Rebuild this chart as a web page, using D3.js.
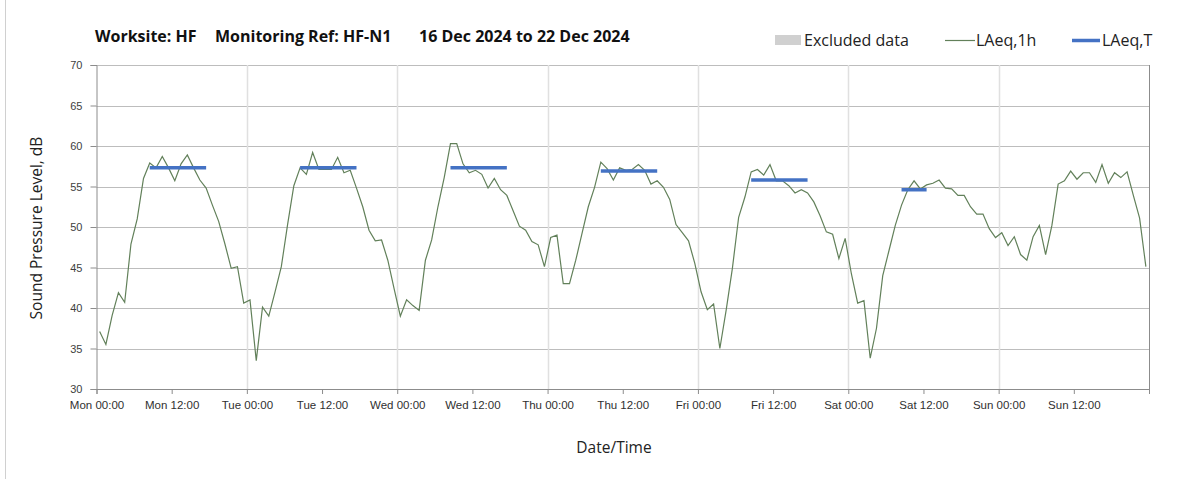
<!DOCTYPE html>
<html><head><meta charset="utf-8">
<script src="https://cdn.jsdelivr.net/npm/d3@7"></script>
<style>body{margin:0;background:#fff;} svg{display:block;font-family:"Open Sans","Noto Sans",sans-serif;}</style>
</head><body>
<svg id="chart" width="1203" height="479"></svg>
<script>
// ---- data (hourly LAeq,1h, dB) ----
const monday    = [37.1,35.5,39.1,41.9,40.7,47.9,51.0,56.0,57.9,57.3,58.7,57.3,55.7,57.8,58.9,57.3,55.8,54.8,52.7,50.7,47.9,44.9,45.1,40.6];
const tuesday   = [41.0,33.5,40.1,39.0,42.0,45.1,50.3,55.1,57.3,56.5,59.2,57.1,57.1,57.1,58.6,56.7,57.0,54.8,52.5,49.6,48.3,48.4,45.9,42.4];
const wednesday = [39.0,41.0,40.3,39.7,45.9,48.4,52.5,56.1,60.3,60.3,57.8,56.7,57.0,56.5,54.8,56.0,54.6,53.9,52.0,50.1,49.6,48.2,47.8,45.1];
const thursday  = [48.7,49.0,43.0,43.0,45.9,49.2,52.5,54.9,58.0,57.2,55.8,57.3,57.0,57.1,57.7,57.0,55.3,55.7,54.9,53.4,50.3,49.3,48.3,45.5];
const friday    = [42.0,39.8,40.5,35.0,39.7,44.9,51.2,53.7,56.8,57.1,56.4,57.7,55.7,55.7,55.1,54.2,54.6,54.2,53.1,51.4,49.4,49.1,46.1,48.6];
const saturday  = [44.2,40.6,40.9,33.8,37.5,44.0,47.1,50.2,52.7,54.6,55.7,54.7,55.2,55.4,55.8,54.8,54.7,53.9,53.9,52.5,51.6,51.6,49.8,48.7];
const sunday    = [49.3,47.7,48.8,46.6,45.9,48.8,50.2,46.6,50.2,55.3,55.7,56.9,55.9,56.7,56.7,55.5,57.7,55.4,56.7,56.1,56.8,53.9,51.1,45.1];

// LAeq,T daytime periods
const periodDay   = [0, 1, 2, 3, 4, 5];
const periodStart = [8, 8, 8, 8, 8, 8];
const periodEnd   = [17, 17, 17, 17, 17, 12];
const periodValue = [57.3, 57.3, 57.3, 56.9, 55.8, 54.6];

const dayNames = ["Mon","Tue","Wed","Thu","Fri","Sat","Sun"];
const tickHours = d3.range(0, 168, 12);
const yTicks = [30,35,40,45,50,55,60,65,70];

(function(){
const svg = d3.select("#chart");
const pL = 96.5, pR = 1149, pT = 65, pB = 389;
const x = d3.scaleLinear().domain([0,168]).range([pL,pR]);
const y = d3.scaleLinear().domain([30,70]).range([pB,pT]);

const hourly = [].concat(monday,tuesday,wednesday,thursday,friday,saturday,sunday)
  .map((v,i)=>({h:i+0.5, v}));

// frame line at left edge
svg.append("line").attr("x1",5.5).attr("x2",5.5).attr("y1",0).attr("y2",479).attr("stroke","#d0d0d0");

// horizontal grid
svg.append("g").selectAll("line").data(yTicks.slice(1)).join("line")
  .attr("x1",pL).attr("x2",pR).attr("y1",d=>Math.round(y(d))+0.5).attr("y2",d=>Math.round(y(d))+0.5)
  .attr("stroke","#bdbdbd").attr("stroke-width",1);
// vertical day grid
svg.append("g").selectAll("line").data(d3.range(24,168,24)).join("line")
  .attr("x1",d=>Math.round(x(d))+0.5).attr("x2",d=>Math.round(x(d))+0.5).attr("y1",pT).attr("y2",pB)
  .attr("stroke","#e0e0e0").attr("stroke-width",1.5);

// y axis
const yAxis = d3.axisLeft(y).tickValues(yTicks).tickSize(6).tickFormat(d3.format("d"));
const gy = svg.append("g").attr("transform",`translate(${pL},0)`).call(yAxis);
gy.select(".domain").attr("stroke","#8c8c8c");
gy.selectAll(".tick line").attr("stroke","#8c8c8c");
gy.selectAll("text").attr("font-size",11).attr("fill","#404040").attr("x",-14);

// x axis
const xAxis = d3.axisBottom(x).tickValues(tickHours.concat([168])).tickSize(5)
  .tickFormat(d => d>=168 ? "" : dayNames[Math.floor(d/24)] + " " + (d%24===0?"00:00":"12:00"));
const gx = svg.append("g").attr("transform",`translate(0,${pB})`).call(xAxis);
gx.select(".domain").attr("stroke","#8c8c8c");
gx.selectAll(".tick line").attr("stroke","#8c8c8c");
gx.selectAll("text").attr("font-size",11.5).attr("fill","#303030").attr("y",12);

// right border
svg.append("line").attr("x1",pR+0.5).attr("x2",pR+0.5).attr("y1",pT).attr("y2",pB).attr("stroke","#8c8c8c");

// LAeq,1h line
svg.append("path").datum(hourly)
  .attr("fill","none").attr("stroke","#62805a").attr("stroke-width",1.2)
  .attr("d", d3.line().x(d=>x(d.h)).y(d=>y(d.v)));

// LAeq,T segments
svg.append("g").selectAll("line").data(periodDay).join("line")
  .attr("x1",(d,i)=>x(d*24+periodStart[i]+0.5)).attr("x2",(d,i)=>x(d*24+periodEnd[i]+0.5))
  .attr("y1",(d,i)=>y(periodValue[i])).attr("y2",(d,i)=>y(periodValue[i]))
  .attr("stroke","#4472c4").attr("stroke-width",3.5);

// titles
const title = svg.append("g").attr("font-weight","bold").attr("font-size",16).attr("fill","#111");
title.append("text").attr("x",95).attr("y",42).text("Worksite: HF");
title.append("text").attr("x",215).attr("y",42).text("Monitoring Ref: HF-N1");
title.append("text").attr("x",419).attr("y",42).text("16 Dec 2024 to 22 Dec 2024");

// legend
const lg = svg.append("g").attr("font-size",16).attr("fill","#222");
lg.append("rect").attr("x",775).attr("y",35).attr("width",26).attr("height",10).attr("fill","#d0d0d0");
lg.append("text").attr("x",804).attr("y",46).text("Excluded data");
lg.append("line").attr("x1",945).attr("x2",975).attr("y1",40.5).attr("y2",40.5).attr("stroke","#62805a").attr("stroke-width",1.2);
lg.append("text").attr("x",976).attr("y",46).text("LAeq,1h");
lg.append("line").attr("x1",1072).attr("x2",1100).attr("y1",40.5).attr("y2",40.5).attr("stroke","#4472c4").attr("stroke-width",3.5);
lg.append("text").attr("x",1102).attr("y",46).text("LAeq,T");

// axis titles
svg.append("text").attr("transform","translate(42,228) rotate(-90)").attr("text-anchor","middle")
  .attr("font-size",15.5).attr("fill","#222").text("Sound Pressure Level, dB");
svg.append("text").attr("x",614).attr("y",453).attr("text-anchor","middle")
  .attr("font-size",15.5).attr("fill","#222").text("Date/Time");
})();
</script>
</body></html>
